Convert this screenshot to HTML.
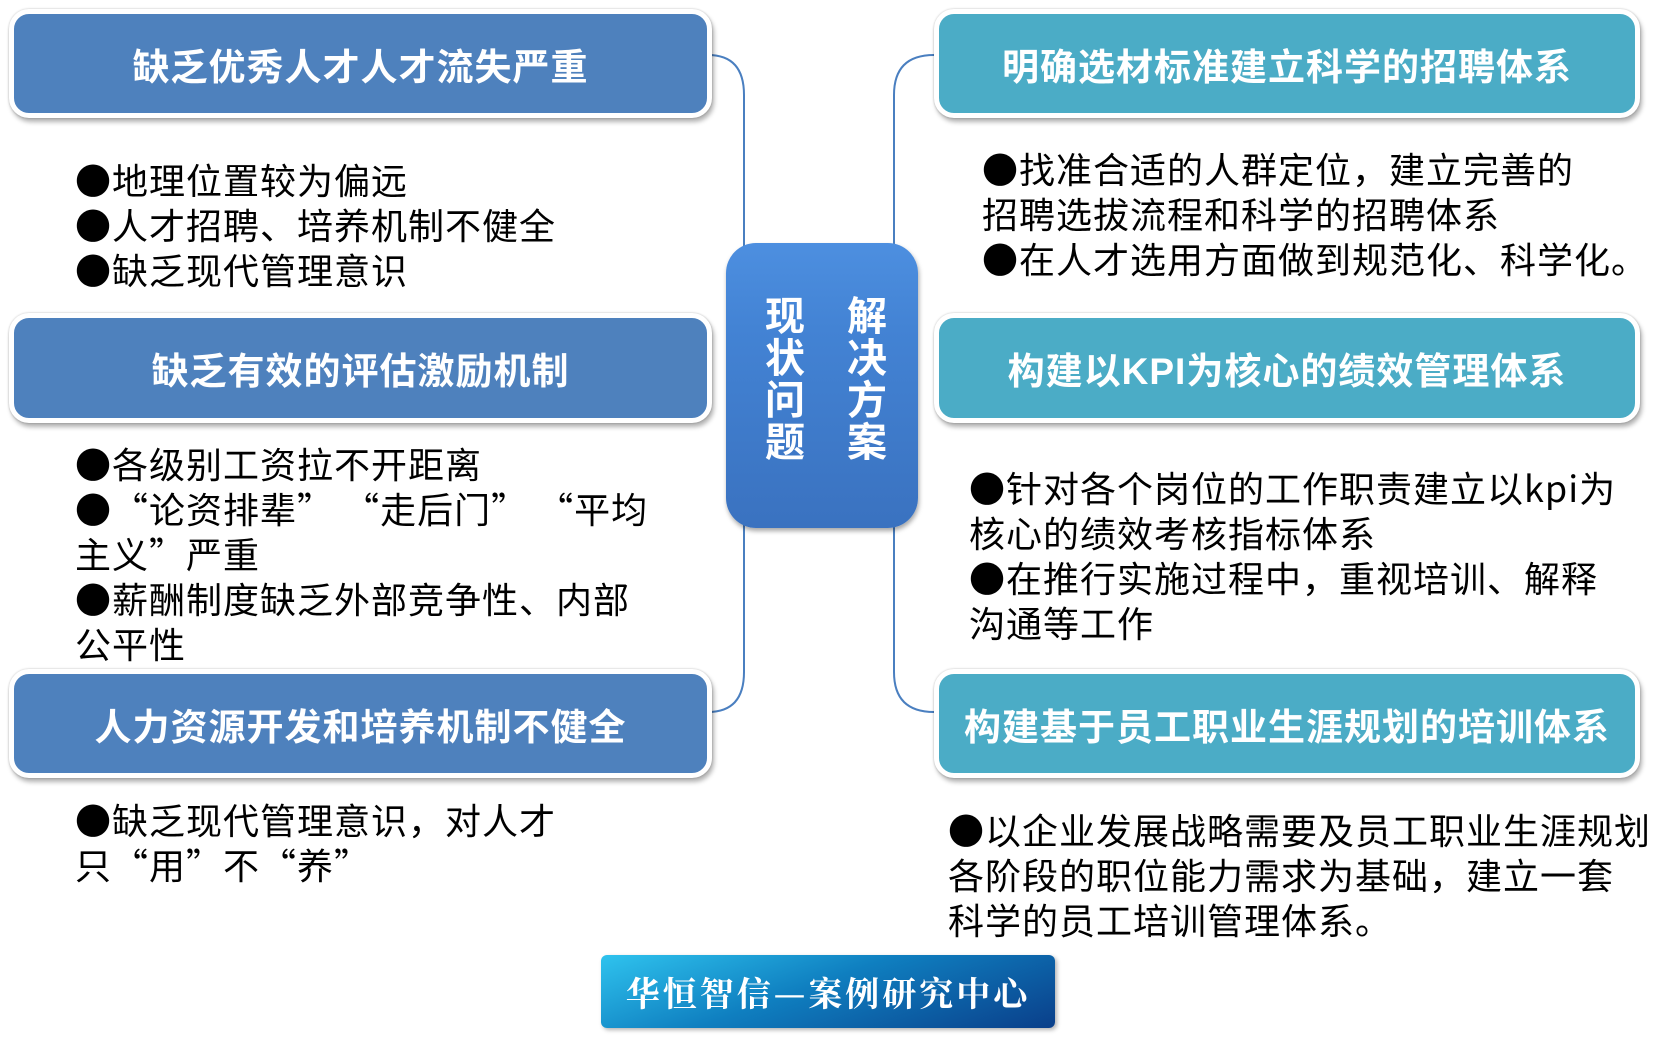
<!DOCTYPE html>
<html><head><meta charset="utf-8"><style>
body{margin:0;width:1675px;height:1037px;background:#fff;position:relative;overflow:hidden;font-family:"Liberation Sans","Noto Sans CJK SC",sans-serif}
.b{position:absolute;border:5px solid #fff;border-radius:20px;box-shadow:2px 4px 5px rgba(0,0,0,.3),0 0 2px rgba(0,0,0,.25);color:#fff;font-weight:bold;font-size:37px;letter-spacing:1px;display:flex;align-items:center;justify-content:center;box-sizing:border-box}
.l{background:#4e81bd;left:9px;width:703px}
.r{background:#4bacc6;left:934px;width:706px}
.t{position:absolute;font-family:"Noto Sans CJK SC",sans-serif;font-size:36px;letter-spacing:1px;line-height:45px;white-space:nowrap;color:#000}
</style></head><body>
<svg width="1675" height="1037" style="position:absolute;left:0;top:0">
<path d="M708 55 Q744 55 744 95 L744 672 Q744 712 708 712" fill="none" stroke="#4a7fc0" stroke-width="2"/>
<path d="M934 55 Q894 55 894 95 L894 672 Q894 712 934 712" fill="none" stroke="#4a7fc0" stroke-width="2"/>
</svg>
<div class="b l" style="top:9px;height:109px">缺乏优秀人才人才流失严重</div>
<div class="b l" style="top:313px;height:110px">缺乏有效的评估激励机制</div>
<div class="b l" style="top:669px;height:109px">人力资源开发和培养机制不健全</div>
<div class="b r" style="top:9px;height:109px">明确选材标准建立科学的招聘体系</div>
<div class="b r" style="top:313px;height:110px">构建以KPI为核心的绩效管理体系</div>
<div class="b r" style="top:669px;height:109px">构建基于员工职业生涯规划的培训体系</div>
<div style="position:absolute;left:726px;top:243px;width:192px;height:285px;border-radius:30px;background:linear-gradient(#4d8fe0,#4383d4 30%,#3a72c0);box-shadow:1px 3px 5px rgba(0,0,0,.35)"></div>
<div style="position:absolute;left:764px;top:296px;width:42px;font-size:40px;line-height:42px;color:#fff;font-weight:bold;text-align:center">现<br>状<br>问<br>题</div>
<div style="position:absolute;left:846px;top:296px;width:42px;font-size:40px;line-height:42px;color:#fff;font-weight:bold;text-align:center">解<br>决<br>方<br>案</div>
<div class="t" style="left:75px;top:157px">●地理位置较为偏远<br>●人才招聘、培养机制不健全<br>●缺乏现代管理意识</div>
<div class="t" style="left:75px;top:441px">●各级别工资拉不开距离<br>●“论资排辈” “走后门” “平均<br>主义”严重<br>●薪酬制度缺乏外部竞争性、内部<br>公平性</div>
<div class="t" style="left:75px;top:797px">●缺乏现代管理意识，对人才<br>只“用”不“养”</div>
<div class="t" style="left:982px;top:146px">●找准合适的人群定位，建立完善的<br>招聘选拔流程和科学的招聘体系<br>●在人才选用方面做到规范化、科学化。</div>
<div class="t" style="left:969px;top:465px">●针对各个岗位的工作职责建立以kpi为<br>核心的绩效考核指标体系<br>●在推行实施过程中，重视培训、解释<br>沟通等工作</div>
<div class="t" style="left:948px;top:807px">●以企业发展战略需要及员工职业生涯规划<br>各阶段的职位能力需求为基础，建立一套<br>科学的员工培训管理体系。</div>
<div style="position:absolute;left:601px;top:955px;width:454px;height:73px;border-radius:6px;background:linear-gradient(160deg,#2fc3ee,#0f7fc0 45%,#0a3f8a);box-shadow:2px 2px 4px rgba(0,0,0,.3);color:#fff;font-family:'Noto Serif CJK SC',serif;font-weight:bold;font-size:34px;display:flex;align-items:center;justify-content:center;letter-spacing:3px">华恒智信—案例研究中心</div>
</body></html>
